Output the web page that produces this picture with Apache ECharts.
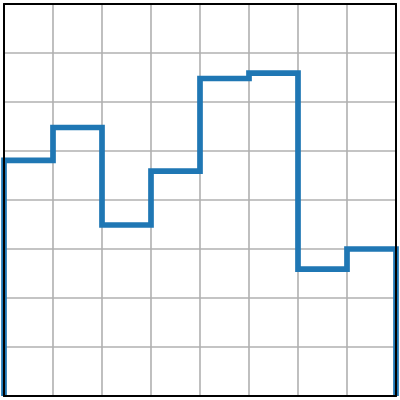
<!DOCTYPE html>
<html>
<head>
<meta charset="utf-8">
<script src="https://cdn.jsdelivr.net/npm/echarts@6/dist/echarts.min.js"></script>
<style>html,body{margin:0;padding:0;background:#fff;}#c{width:400px;height:400px;}</style>
</head>
<body>
<div id="c"></div>
<script>
var edges = [0, 1, 2, 3, 4, 5, 6, 7, 8];
var values = [4.81, 5.48, 3.49, 4.59, 6.48, 6.59, 2.59, 3.00];
var baseline = 0;

// build step points: vertical at each edge then horizontal
var points = [[edges[0], baseline]];
for (var i = 0; i < values.length; i++) points.push([edges[i + 1], values[i]]);
points.push([edges[edges.length - 1], baseline]);

var chart = echarts.init(document.getElementById('c'), null, {renderer: 'canvas'});
var frameAxis = {
  type: 'value', min: 0, max: 8, interval: 1, z: 10,
  axisLine: {show: true, onZero: false, lineStyle: {color: '#000', width: 2}},
  axisTick: {show: false}, axisLabel: {show: false}, splitLine: {show: false}
};
chart.setOption({
  animation: false,
  grid: {left: 4, right: 4, top: 4, bottom: 4},
  xAxis: [
    {type: 'value', min: 0, max: 8, interval: 1, position: 'bottom',
     axisLine: {show: false}, axisTick: {show: false}, axisLabel: {show: false},
     splitLine: {show: true, lineStyle: {color: '#b0b0b0', width: 1.6}}},
    Object.assign({}, frameAxis, {position: 'top'}),
    Object.assign({}, frameAxis, {position: 'bottom'})
  ],
  yAxis: [
    {type: 'value', min: 0, max: 8, interval: 1, position: 'left',
     axisLine: {show: false}, axisTick: {show: false}, axisLabel: {show: false},
     splitLine: {show: true, lineStyle: {color: '#b0b0b0', width: 1.6}}},
    Object.assign({}, frameAxis, {position: 'left'}),
    Object.assign({}, frameAxis, {position: 'right'})
  ],
  series: [{
    type: 'line', step: 'start', data: points, xAxisIndex: 0, yAxisIndex: 0,
    showSymbol: false, symbol: 'none', clip: false,
    lineStyle: {color: '#1f77b4', width: 5.7, join: 'miter', cap: 'butt'}
  }]
});
</script>
</body>
</html>
